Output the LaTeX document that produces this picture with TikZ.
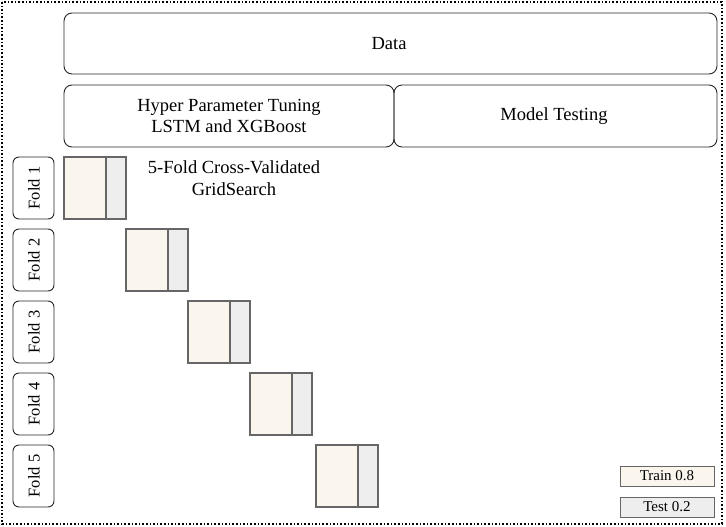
\documentclass[tikz,border=0pt]{standalone}
\usepackage{fontspec}
\setmainfont{Liberation Serif}
\definecolor{trainc}{HTML}{FAF6EE}
\definecolor{testc}{HTML}{EEEEEE}
\definecolor{edgec}{HTML}{666666}
\begin{document}
\begin{tikzpicture}[x=1pt,y=-1pt,
  bigbox/.style={draw=black!85,line width=0.9pt,rounded corners=8pt},
  foldlab/.style={draw=black!85,line width=0.9pt,rounded corners=6pt},
  trainbox/.style={draw=edgec,fill=trainc,line width=1.1pt},
  testbox/.style={draw=edgec,fill=testc,line width=1.1pt},
  txt/.style={font=\fontsize{18.5}{21.5}\selectfont,align=center,inner sep=0pt},
  foldtxt/.style={font=\fontsize{16.5}{20}\selectfont,inner sep=0pt,rotate=90},
  legtxt/.style={font=\fontsize{15}{18}\selectfont,inner sep=0pt}]
\useasboundingbox (0,0) rectangle (726,527);
\draw[dotted,line width=1.6pt] (2,2) rectangle (722,524);
% top boxes
\draw[bigbox] (64,13) rectangle (717,74);
\node[txt] (data) at (389,44) {Data};
\draw[bigbox] (64,85) rectangle (394,147);
\node[txt] (hpt) at (229,116) {Hyper Parameter Tuning\\LSTM and XGBoost};
\draw[bigbox] (394,85) rectangle (717,147);
\node[txt] (mt) at (554,116) {Model Testing};
% fold labels
\foreach \i/\y in {1/157,2/229,3/301,4/373,5/445}{
  \draw[foldlab] (13,\y) rectangle (54,\y+62);
  \node[foldtxt] (f\i) at (34,\y+31) {Fold \i};
}
% fold boxes
\foreach \i/\x/\y in {1/64/157,2/126/229,3/188/301,4/250/373,5/316/445}{
  \draw[trainbox] (\x,\y) rectangle (\x+42,\y+62);
  \draw[testbox] (\x+42,\y) rectangle (\x+62,\y+62);
}
\node[txt] (cv) at (234,178) {5-Fold Cross-Validated\\GridSearch};
% legend
\draw[trainbox,line width=0.9pt] (620,466) rectangle (714,486);
\node[legtxt] (tr) at (667,476) {Train 0.8};
\draw[testbox,line width=0.9pt] (620,497) rectangle (714,517);
\node[legtxt] (te) at (667,507) {Test 0.2};
\end{tikzpicture}
\end{document}
